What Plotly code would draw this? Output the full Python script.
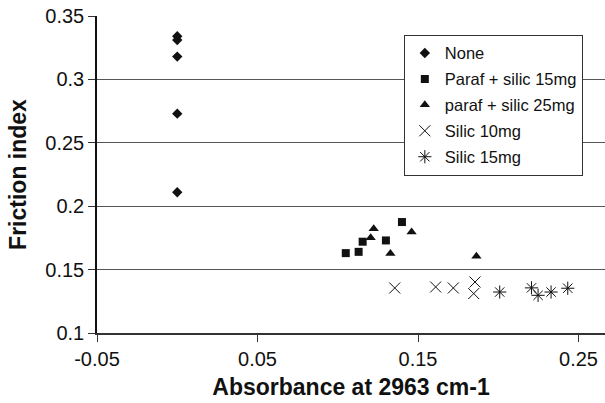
import plotly.graph_objects as go

# Data
none_x = [0.0, 0.0, 0.0, 0.0, 0.0]
none_y = [0.334, 0.331, 0.318, 0.273, 0.211]

paraf15_x = [0.105, 0.113, 0.1155, 0.130, 0.140]
paraf15_y = [0.163, 0.164, 0.172, 0.173, 0.1875]

paraf25_x = [0.1205, 0.1224, 0.1328, 0.146, 0.1864]
paraf25_y = [0.1752, 0.1823, 0.1626, 0.1797, 0.1605]

silic10_x = [0.1355, 0.161, 0.172, 0.1855, 0.1847]
silic10_y = [0.1355, 0.1363, 0.1355, 0.1402, 0.1311]

silic15_x = [0.2009, 0.2207, 0.2248, 0.2329, 0.2433]
silic15_y = [0.1323, 0.1356, 0.1297, 0.1323, 0.1353]

x_ticks = [-0.05, 0.05, 0.15, 0.25]
x_tick_labels = ["-0.05", "0.05", "0.15", "0.25"]
y_ticks = [0.1, 0.15, 0.2, 0.25, 0.3, 0.35]
y_tick_labels = ["0.1", "0.15", "0.2", "0.25", "0.3", "0.35"]

FONT = "Liberation Sans, Arial, sans-serif"
INK = "#111111"

series = [
    ("None", none_x, none_y, dict(symbol="diamond", size=8, color=INK)),
    ("Paraf + silic 15mg", paraf15_x, paraf15_y, dict(symbol="square", size=8, color=INK)),
    ("paraf + silic 25mg", paraf25_x, paraf25_y, dict(symbol="triangle-up", size=9, color=INK)),
    ("Silic 10mg", silic10_x, silic10_y,
     dict(symbol="x-thin-open", size=11, color=INK, line=dict(color=INK, width=1))),
    ("Silic 15mg", silic15_x, silic15_y,
     dict(symbol="asterisk-open", size=11, color=INK, line=dict(color=INK, width=1))),
]

fig = go.Figure()
for i, (name, xs, ys, mk) in enumerate(series):
    fig.add_trace(go.Scatter(x=xs, y=ys, mode="markers", name=name,
                             marker=mk, legendgroup=f"g{i}"))

fig.update_layout(
    width=605, height=403,
    margin=dict(l=97, r=0, t=16, b=70, autoexpand=False),
    paper_bgcolor="white", plot_bgcolor="white",
    font=dict(family=FONT, color=INK),
    showlegend=True,
    legend=dict(x=0.604, y=0.941, xanchor="left", yanchor="top",
                bgcolor="white", bordercolor="#333333", borderwidth=1,
                font=dict(size=16.5, family=FONT, color=INK),
                tracegroupgap=1.5, itemwidth=30),
)

fig.update_xaxes(
    range=[-0.05, 0.2665], tickmode="array", tickvals=x_ticks, ticktext=x_tick_labels,
    showgrid=False, zeroline=False, showline=True, linecolor="#333333", linewidth=1.5,
    ticks="outside", ticklen=7, tickcolor="#333333",
    tickfont=dict(size=20, family=FONT, color=INK),
    title=dict(text="<b>Absorbance at 2963 cm-1</b>", font=dict(size=23, family=FONT, color=INK),
               standoff=10),
)
fig.update_yaxes(
    range=[0.1, 0.35], tickmode="array", tickvals=y_ticks, ticktext=y_tick_labels,
    showgrid=True, gridcolor="#555555", gridwidth=1, zeroline=False,
    showline=True, linecolor="#111111", linewidth=1.5,
    ticks="outside", ticklen=7, tickcolor="#333333",
    tickfont=dict(size=20, family=FONT, color=INK),
    title=dict(text="<b>Friction index</b>", font=dict(size=23, family=FONT, color=INK),
               standoff=12),
)

fig.write_html("out.html")
